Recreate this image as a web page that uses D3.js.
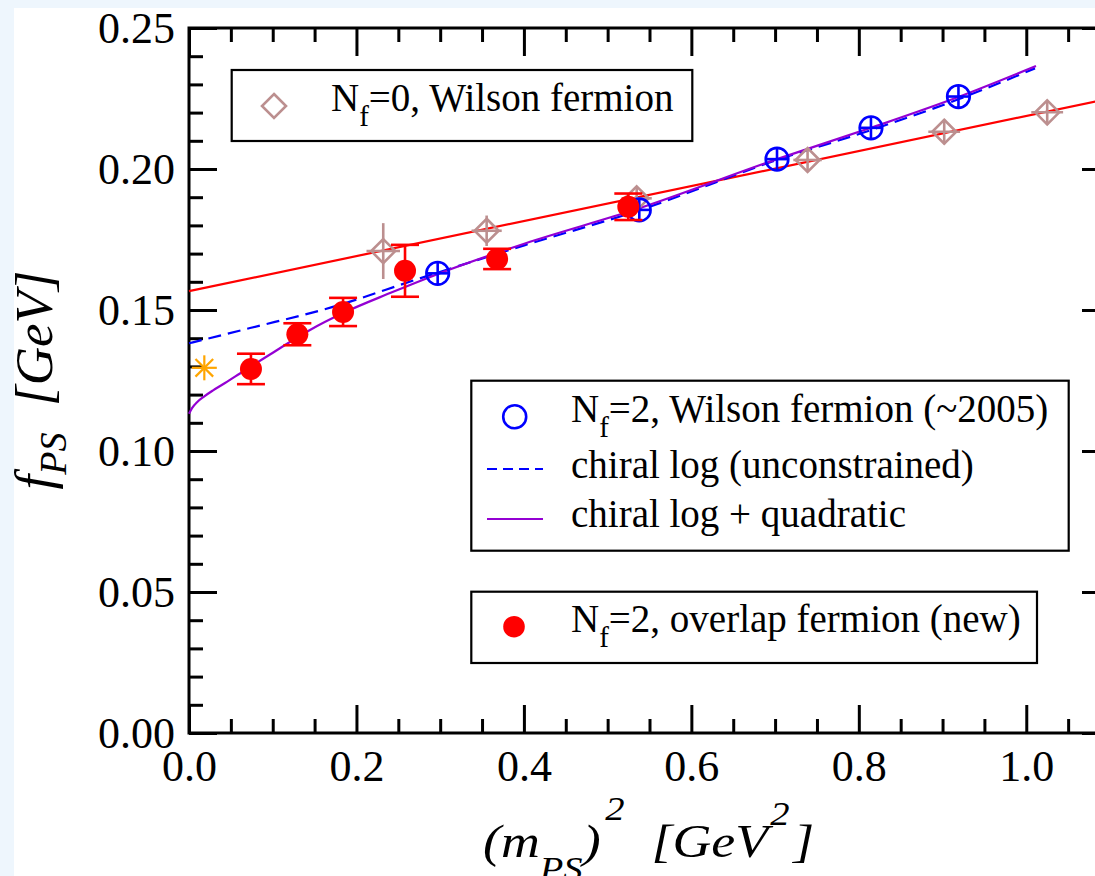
<!DOCTYPE html>
<html>
<head>
<meta charset="utf-8">
<script src="https://cdn.jsdelivr.net/npm/d3@7"></script>
<style>
  body { margin: 0; background: #eef6fd; }
  svg { display: block; }
  text { font-family: "Liberation Serif", "Times New Roman", serif; fill: #000; }
</style>
</head>
<body>
<svg id="chart" width="1095" height="876"></svg>
<script>
// ---- data ----
// Nf=2 overlap fermion (new)
const overlapX = [0.074, 0.1294, 0.184, 0.258, 0.368, 0.5247];
const overlapY = [0.1291, 0.1414, 0.1493, 0.1639, 0.1681, 0.1866];
const overlapErr = [0.0054, 0.0039, 0.0050, 0.0092, 0.0036, 0.0047];

// Nf=2 Wilson fermion (~2005)
const wilson2X = [0.297, 0.5378, 0.7023, 0.8145, 0.919];
const wilson2Y = [0.1630, 0.1855, 0.2035, 0.2146, 0.2257];
const wilson2XErr = [0.0135, 0.0135, 0.0135, 0.0135, 0.0135];
const wilson2YErr = [0.0041, 0.0041, 0.0041, 0.0041, 0.0041];

// Nf=0 Wilson fermion
const wilson0X = [0.232, 0.3555, 0.5347, 0.7388, 0.902, 1.025];
const wilson0Y = [0.1709, 0.1781, 0.1896, 0.2032, 0.2132, 0.2201];
const wilson0XErr = [0.020, 0.018, 0.018, 0.017, 0.019, 0.019];
const wilson0YErr = [0.0099, 0.0054, 0.0042, 0.0041, 0.0044, 0.0044];

// experimental point
const expX = [0.0183];
const expY = [0.1295];

// fit curves
const linearFitX = [0.0, 1.1];
const linearFitY = [0.1567, 0.2250];

const logFitX = [0.0, 0.0729, 0.1708, 0.2735, 0.4013, 0.5350, 0.7023, 0.8145, 0.9196, 1.0104];
const logFitY = [0.1382, 0.1436, 0.1510, 0.1610, 0.1730, 0.1851, 0.2032, 0.2138, 0.2248, 0.2357];

const logQuadX = [0.0, 0.0036, 0.0096, 0.0179, 0.0287, 0.0430, 0.0609, 0.0788, 0.0967, 0.1147, 0.1445, 0.1839, 0.2401, 0.2974, 0.4013, 0.5350, 0.7023, 0.8145, 0.9196, 1.0116];
const logQuadY = [0.1132, 0.1152, 0.1173, 0.1193, 0.1215, 0.1241, 0.1275, 0.1309, 0.1342, 0.1376, 0.1429, 0.1489, 0.1560, 0.1628, 0.1736, 0.1858, 0.2035, 0.2146, 0.2256, 0.2365];

const xMajor = [0, 0.2, 0.4, 0.6, 0.8, 1.0];
const yMajor = [0, 0.05, 0.10, 0.15, 0.20, 0.25];

// ---- setup ----
const svg = d3.select('#chart');
const pLeft = 189, pRight = 1110, pTop = 28, pBottom = 733;

svg.append('rect').attr('x', 14).attr('y', 8).attr('width', 1095).attr('height', 876).attr('fill', '#fff');

const x = d3.scaleLinear().domain([0, 1.1]).range([pLeft, pRight]);
const y = d3.scaleLinear().domain([0, 0.25]).range([pBottom, pTop]);

const zip = (xs, ys) => xs.map((v, i) => [v, ys[i]]);

// axes (ticks on all four sides, pointing inward)
const xMinor = d3.range(0, 1.1001, 0.05).filter(v => !xMajor.some(m => Math.abs(m - v) < 1e-6));
const yMinor = d3.range(0, 0.2501, 0.01).filter(v => !yMajor.some(m => Math.abs(m - v) < 1e-6));

function styleAxis(g) {
  g.select('.domain').remove();
  g.selectAll('.tick line').attr('stroke', '#000').attr('stroke-width', 3);
  g.selectAll('.tick text').style('font-size', '44px').style('font-family', '"Liberation Serif", serif');
}

svg.append('g').attr('transform', `translate(0,${pBottom})`)
  .call(d3.axisBottom(x).tickValues(xMajor).tickSize(-28).tickPadding(14).tickFormat(d3.format('.1f')))
  .call(styleAxis)
  .selectAll('.tick text').attr('dy', '0.78em');
svg.append('g').attr('transform', `translate(0,${pBottom})`)
  .call(d3.axisBottom(x).tickValues(xMinor).tickSize(-14).tickFormat(''))
  .call(styleAxis);
svg.append('g').attr('transform', `translate(0,${pTop})`)
  .call(d3.axisTop(x).tickValues(xMajor).tickSize(-28).tickFormat(''))
  .call(styleAxis);
svg.append('g').attr('transform', `translate(0,${pTop})`)
  .call(d3.axisTop(x).tickValues(xMinor).tickSize(-14).tickFormat(''))
  .call(styleAxis);

svg.append('g').attr('transform', `translate(${pLeft},0)`)
  .call(d3.axisLeft(y).tickValues(yMajor).tickSize(-28).tickPadding(14).tickFormat(d3.format('.2f')))
  .call(styleAxis);
svg.append('g').attr('transform', `translate(${pLeft},0)`)
  .call(d3.axisLeft(y).tickValues(yMinor).tickSize(-14).tickFormat(''))
  .call(styleAxis);
svg.append('g').attr('transform', `translate(${pRight},0)`)
  .call(d3.axisRight(y).tickValues(yMajor).tickSize(-28).tickFormat(''))
  .call(styleAxis);
svg.append('g').attr('transform', `translate(${pRight},0)`)
  .call(d3.axisRight(y).tickValues(yMinor).tickSize(-14).tickFormat(''))
  .call(styleAxis);

// frame
svg.append('rect')
  .attr('x', pLeft).attr('y', pTop).attr('width', pRight - pLeft).attr('height', pBottom - pTop)
  .attr('fill', 'none').attr('stroke', '#000').attr('stroke-width', 3);

// ---- fit lines ----
const line = d3.line().x(d => x(d[0])).y(d => y(d[1]));
const curve = d3.line().x(d => x(d[0])).y(d => y(d[1])).curve(d3.curveMonotoneX);

svg.append('path').attr('d', line(zip(linearFitX, linearFitY)))
  .attr('fill', 'none').attr('stroke', '#ff0000').attr('stroke-width', 2.2);
svg.append('path').attr('d', curve(zip(logFitX, logFitY)))
  .attr('fill', 'none').attr('stroke', '#0000ff').attr('stroke-width', 2.2).attr('stroke-dasharray', '13,7');
svg.append('path').attr('d', curve(zip(logQuadX, logQuadY)))
  .attr('fill', 'none').attr('stroke', '#9400d3').attr('stroke-width', 2.2);

// ---- Nf=0 Wilson diamonds ----
const brown = '#bc8f8f';
const w0 = svg.append('g').attr('stroke', brown).attr('stroke-width', 2.6).attr('fill', 'none');
wilson0X.forEach((v, i) => {
  const cx = x(v), cy = y(wilson0Y[i]);
  w0.append('line').attr('x1', x(v - wilson0XErr[i])).attr('x2', x(v + wilson0XErr[i])).attr('y1', cy).attr('y2', cy);
  w0.append('line').attr('x1', cx).attr('x2', cx).attr('y1', y(wilson0Y[i] - wilson0YErr[i])).attr('y2', y(wilson0Y[i] + wilson0YErr[i]));
  w0.append('path').attr('d', `M${cx},${cy - 12}L${cx + 12},${cy}L${cx},${cy + 12}L${cx - 12},${cy}Z`);
});

// ---- Nf=2 Wilson circles ----
const w2 = svg.append('g').attr('stroke', '#0000ff').attr('stroke-width', 2.6).attr('fill', 'none');
wilson2X.forEach((v, i) => {
  const cx = x(v), cy = y(wilson2Y[i]);
  w2.append('circle').attr('cx', cx).attr('cy', cy).attr('r', 11.3);
  w2.append('line').attr('x1', x(v - wilson2XErr[i])).attr('x2', x(v + wilson2XErr[i])).attr('y1', cy).attr('y2', cy);
  w2.append('line').attr('x1', cx).attr('x2', cx).attr('y1', y(wilson2Y[i] - wilson2YErr[i])).attr('y2', y(wilson2Y[i] + wilson2YErr[i]));
});

// ---- overlap points ----
const ov = svg.append('g');
overlapX.forEach((v, i) => {
  const cx = x(v), y0 = y(overlapY[i] - overlapErr[i]), y1 = y(overlapY[i] + overlapErr[i]);
  const g = ov.append('g').attr('stroke', '#ff0000').attr('stroke-width', 2.6);
  g.append('line').attr('x1', cx).attr('x2', cx).attr('y1', y0).attr('y2', y1);
  g.append('line').attr('x1', cx - 14).attr('x2', cx + 14).attr('y1', y0).attr('y2', y0);
  g.append('line').attr('x1', cx - 14).attr('x2', cx + 14).attr('y1', y1).attr('y2', y1);
  ov.append('circle').attr('cx', cx).attr('cy', y(overlapY[i])).attr('r', 11).attr('fill', '#ff0000');
});

// ---- experimental star ----
expX.forEach((v, i) => {
  const cx = x(v), cy = y(expY[i]), r = 12.5;
  const s = svg.append('g').attr('stroke', '#ffa500').attr('stroke-width', 2.2);
  [0, 45, 90, 135].forEach(a => {
    const rad = a * Math.PI / 180;
    s.append('line').attr('x1', cx - r * Math.cos(rad)).attr('y1', cy - r * Math.sin(rad))
      .attr('x2', cx + r * Math.cos(rad)).attr('y2', cy + r * Math.sin(rad));
  });
});

// ---- legends ----
function box(bx, by, bw, bh) {
  svg.append('rect').attr('x', bx).attr('y', by).attr('width', bw).attr('height', bh)
    .attr('fill', '#fff').attr('stroke', '#000').attr('stroke-width', 2.2);
}
function nfText(tx, ty, rest) {
  const t = svg.append('text').attr('x', tx).attr('y', ty).style('font-size', '39px');
  t.append('tspan').text('N');
  t.append('tspan').attr('dy', 15).style('font-size', '29px').text('f');
  t.append('tspan').attr('dy', -15).text(rest);
}

box(231.7, 70, 460.6, 71);
svg.append('path').attr('d', 'M274,94L286,106L274,118L262,106Z').attr('fill', 'none').attr('stroke', brown).attr('stroke-width', 2.6);
nfText(331, 111, '=0, Wilson fermion');

box(471.3, 380.7, 597.4, 170);
svg.append('circle').attr('cx', 514.7).attr('cy', 416.7).attr('r', 11.5).attr('fill', 'none').attr('stroke', '#0000ff').attr('stroke-width', 2.6);
nfText(571, 422, '=2, Wilson fermion (~2005)');
svg.append('line').attr('x1', 487).attr('x2', 543).attr('y1', 469).attr('y2', 469)
  .attr('stroke', '#0000ff').attr('stroke-width', 2.2).attr('stroke-dasharray', '10,6');
svg.append('text').attr('x', 571).attr('y', 478).style('font-size', '39px').text('chiral log (unconstrained)');
svg.append('line').attr('x1', 487).attr('x2', 543).attr('y1', 519).attr('y2', 519)
  .attr('stroke', '#9400d3').attr('stroke-width', 2.2);
svg.append('text').attr('x', 571).attr('y', 527).style('font-size', '39px').text('chiral log + quadratic');

box(471.3, 591.7, 565.7, 71.3);
svg.append('circle').attr('cx', 514).attr('cy', 626.7).attr('r', 10.8).attr('fill', '#ff0000');
nfText(571, 632, '=2, overlap fermion (new)');

// ---- axis titles ----
const xt = svg.append('text').attr('transform', 'translate(483,857) scale(1.17,1)')
  .style('font-size', '46px').style('font-style', 'italic');
xt.append('tspan').text('(m');
xt.append('tspan').attr('dy', 23).style('font-size', '33px').text('PS');
xt.append('tspan').attr('dy', -23).text(')');
xt.append('tspan').attr('dy', -37).attr('dx', 4).style('font-size', '33px').text('2');
xt.append('tspan').attr('dy', 37).text('\u00a0 [GeV');
xt.append('tspan').attr('dy', -32).attr('dx', 2).style('font-size', '33px').text('2');
xt.append('tspan').attr('dy', 32).attr('dx', 3).text(']');

const yt = svg.append('text').attr('transform', 'translate(52,380) rotate(-90)').attr('text-anchor', 'middle')
  .style('font-size', '53px').style('font-style', 'italic');
yt.append('tspan').text('f');
yt.append('tspan').attr('dy', 14).style('font-size', '38px').text('PS');
yt.append('tspan').attr('dy', -14).text('\u00a0 [GeV]');
</script>
</body>
</html>
